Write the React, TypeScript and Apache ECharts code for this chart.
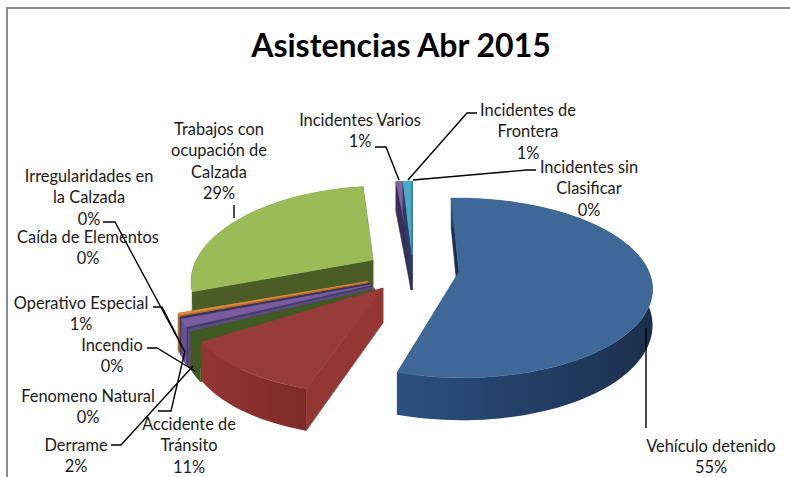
import React, { useEffect, useRef } from "react";
import * as echarts from "echarts";

const titleText = "Asistencias Abr 2015";
const categories = [
  "Vehículo detenido", "Accidente de\nTránsito", "Derrame", "Fenomeno Natural", "Incendio",
  "Operativo Especial", "Caída de Elementos", "Irregularidades en\nla Calzada",
  "Trabajos con\nocupación de\nCalzada", "Incidentes Varios", "Incidentes de\nFrontera",
  "Incidentes sin\nClasificar",
];
const values = [55.3, 11, 2, 0.1, 0.1, 1.3, 0.1, 0.3, 28.6, 0.6, 0.9, 0.02];
const percentLabels = ["55%", "11%", "2%", "0%", "0%", "1%", "0%", "0%", "29%", "1%", "1%", "0%"];

// styles per category
const topColors = ["#3f6899", "#973c3a", "#3f5a22", "#5e4a80", "#3f3f6a", "#7b5d9f", "#3a3560", "#e08e3e", "#9bbb59", "#8064a2", "#4bacc6", "#4bacc6"];
const wallColors = ["#2b5080", "#933634", "#3f5a22", "#5e4a80", "#3f3f6a", "#6a4f8e", "#3a3560", "#b06a26", "#4a5d26", "#3a2d57", "#2b3d66", "#2b3d66"];
const wallColorsEnd = ["#1b2f4c", "#7d2a29", "#3f5a22", "#5e4a80", "#3f3f6a", "#6a4f8e", "#3a3560", "#b06a26", "#4a5d26", "#3a2d57", "#2b3d66", "#2b3d66"];
// explode offsets from the shared pie centre, with the per-slice perspective skew
const explode: [number, number][] = [
  [59, 2], [-17, 18], [-25, 19], [-27, 17], [-28, 16], [-29.5, 15], [-30.5, 13.5], [-32, 11.5], [-27, -10], [11, -15], [12, -15], [12, -15],
];
const sliceShear = [0.03, -0.12, 0, 0, 0, 0, 0, 0, -0.13, -0.08, -0.08, -0.08];
const sliceScale = [1, 1, 1, 1, 1, 1, 1, 1, 0.93, 1, 1, 1];
const drawOrder = [9, 10, 11, 8, 7, 6, 5, 4, 3, 2, 0, 1];

const centre: [number, number] = [400, 270];
const START_DEG = -2;
const RX = 190, RY = 87, PERSP = 0.177, DEPTH = 35;

// label layout: centre x, first-line y
const labelPos: [number, number][] = [
  [711, 445], [189, 423], [76, 444], [88, 395], [112, 344], [81, 302], [88, 236], [89, 175], [219, 128], [360, 119], [528, 109], [589, 166],
];
const leaders: number[][][] = [
  [[646, 328], [646, 428]],
  [],
  [[111, 445], [121, 445], [193, 366]],
  [[158, 411], [171, 411], [185, 351]],
  [[147, 348], [157, 348], [195, 371]],
  [[153, 307], [162, 307], [185, 352]],
  [],
  [[103, 222], [115, 222], [185, 352]],
  [[234, 205], [234, 218]],
  [[375, 147], [386, 147], [399, 180]],
  [[477, 113], [467, 113], [408, 180]],
  [[536, 170], [527, 170], [413, 180]],
];

const total = values.reduce((a, b) => a + b, 0);
const rad = (d: number) => (d * Math.PI) / 180;

function project(i: number, deg: number, r: number, drop: boolean): number[] {
  const u = r * Math.sin(rad(deg));
  const v = r * Math.cos(rad(deg));
  const f = 1 / (1 + PERSP * v);
  const dy = -RY * v * f;
  return [
    centre[0] + explode[i][0] + RX * sliceScale[i] * u * f + sliceShear[i] * dy,
    centre[1] + explode[i][1] + dy + (drop ? DEPTH * f : 0),
  ];
}

function arc(i: number, a: number, b: number, drop: boolean): number[][] {
  const n = Math.max(2, Math.ceil(Math.abs(b - a) / 2));
  const pts: number[][] = [];
  for (let k = 0; k <= n; k++) pts.push(project(i, a + ((b - a) * k) / n, 1, drop));
  return pts;
}

function renderSlice(params: any, api: any) {
  const i = drawOrder[params.dataIndex];
  let acc = 0;
  for (let k = 0; k < i; k++) acc += values[k];
  const a = START_DEG + (acc / total) * 360;
  const b = a + (api.value(0) / total) * 360;
  const top = topColors[i];
  const wall = wallColors[i];
  const poly = (points: number[][], fill: any, stroke?: string) => ({
    type: "polygon",
    shape: { points },
    style: { fill, stroke: stroke || fill, lineWidth: 0.5 },
  });
  const apexT = project(i, 0, 0, false);
  const apexB = project(i, 0, 0, true);
  const sT = project(i, a, 1, false), sB = project(i, a, 1, true);
  const eT = project(i, b, 1, false), eB = project(i, b, 1, true);
  const outer = [...arc(i, a, b, false), ...arc(i, b, a, true)];
  const face = [apexT, ...arc(i, a, b, false)];
  const grad = new echarts.graphic.LinearGradient(0, 0, 1, 0, [
    { offset: 0, color: wallColors[i] },
    { offset: 1, color: wallColorsEnd[i] },
  ]);
  return {
    type: "group",
    children: [
      poly([sT, apexT, apexB, sB], i === 0 ? wallColorsEnd[i] : wall),
      poly([eT, apexT, apexB, eB], wall),
      poly(outer, grad, "none"),
      poly(face, top),
    ],
  };
}

const seriesData = drawOrder.map((i) => ({ name: categories[i].replace(/\n/g, " "), value: [values[i]] }));

function buildGraphic() {
  const els: any[] = [];
  const border = "#8c8c8c";
  els.push({ type: "polyline", z: 1, shape: { points: [[7, 477], [7, 8], [790, 8]] }, style: { stroke: border, lineWidth: 2, fill: "none" } });
  categories.forEach((c, i) => {
    if (leaders[i].length) {
      els.push({ type: "polyline", z: 20, shape: { points: leaders[i] }, style: { stroke: "#000", lineWidth: 1.4, fill: "none" } });
    }
    const lines = [...c.split("\n"), percentLabels[i]];
    lines.forEach((t, k) => {
      els.push({
        type: "text", z: 30, x: labelPos[i][0], y: labelPos[i][1] + k * 21.5,
        style: { text: t, fontFamily: "Lato", fontSize: 16.4, fill: "#1a1a1a", textAlign: "center", textVerticalAlign: "middle" },
      });
    });
  });
  return els;
}

export default function App() {
  const ref = useRef<HTMLDivElement>(null);
  useEffect(() => {
    const chart = echarts.init(ref.current!, null, { renderer: "svg" });
    chart.setOption({
      animation: false,
      backgroundColor: "#ffffff",
      title: {
        text: titleText, left: 396, top: 23, textAlign: "center",
        textStyle: { fontFamily: "Lato", fontWeight: "bold", fontSize: 32, color: "#000" },
      },
      series: [{ type: "custom", coordinateSystem: "none", silent: true, renderItem: renderSlice, data: seriesData, z: 5 }],
      graphic: { elements: buildGraphic() },
    });
    return () => chart.dispose();
  }, []);
  return <div ref={ref} style={{ position: "fixed", left: 0, top: 0, width: 790, height: 477 }} />;
}
